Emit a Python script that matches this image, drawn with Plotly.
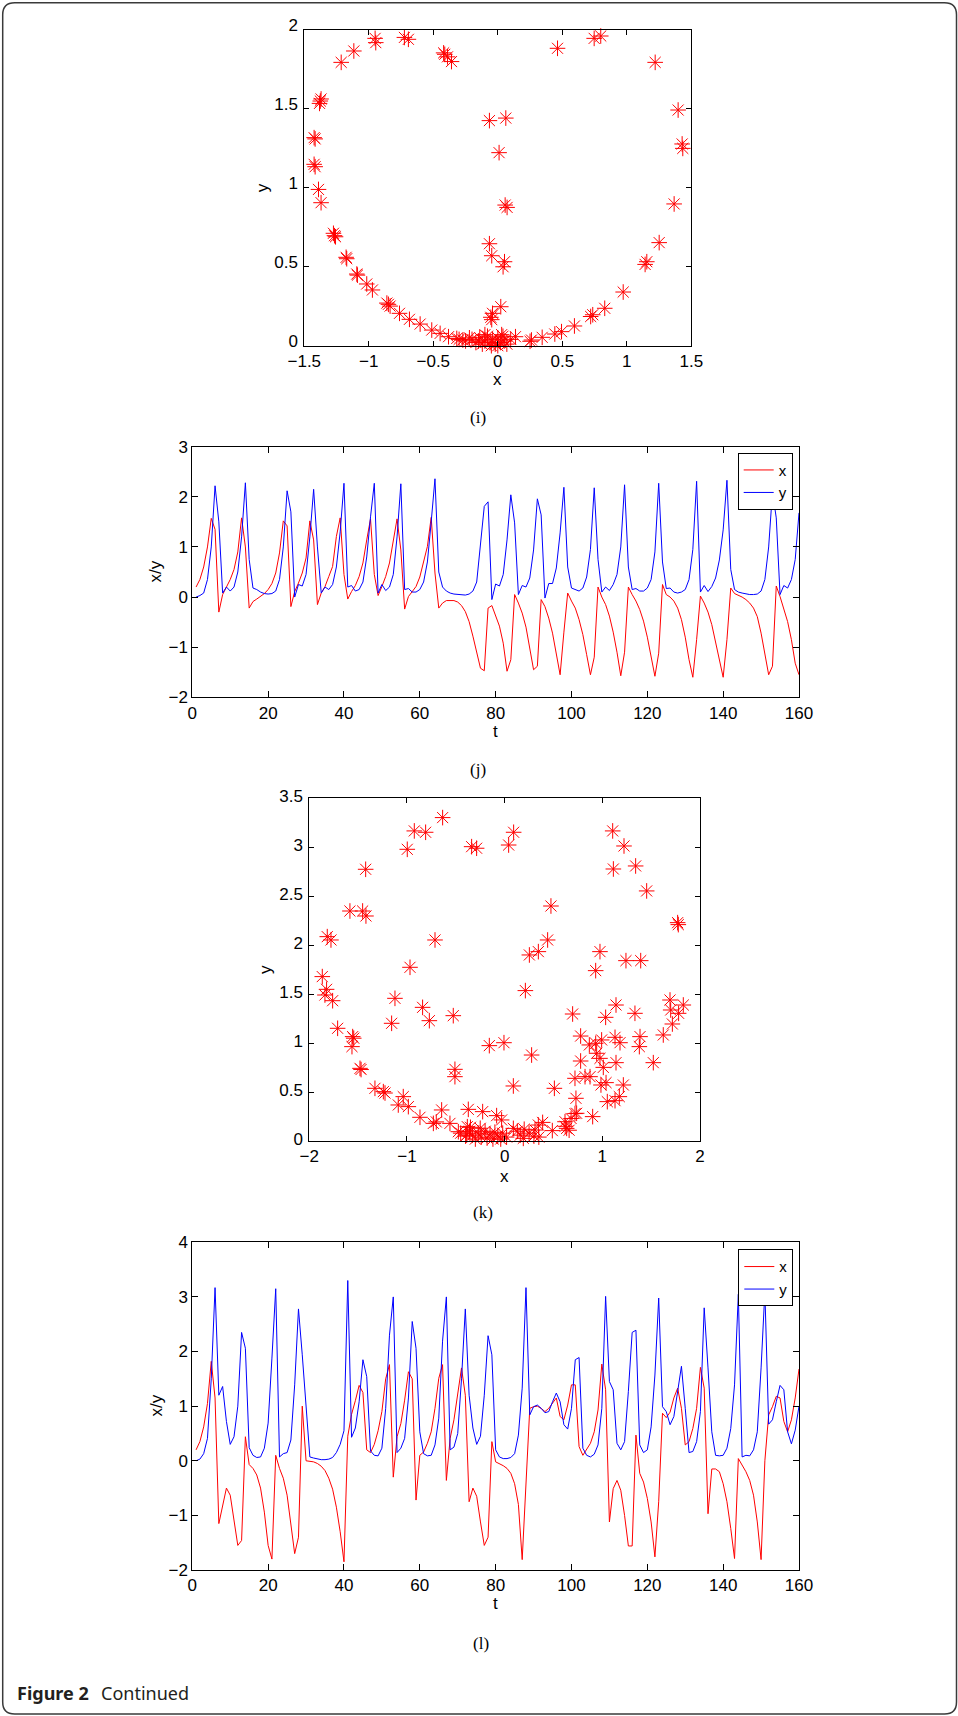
import plotly.graph_objects as go

W, H = 958, 1716

# ---------------- data ----------------
t = list(range(1, 161))

# panel (i): phase portrait
i_x = [-1.214, -1.116, -0.946, -0.951, -0.724, -0.693, -0.411, -0.39, -0.359, -0.42,
       0.463, 0.747, 0.798, 1.22, 1.398, 1.429, 1.434, 1.367, 1.251, 1.155, 1.142,
       0.972, 0.829, 0.736, 0.72, 0.594, 0.494, 0.442, 0.344, 0.261, 0.25, 0.137,
       -0.512, -0.447, -0.382, -0.318, -0.271, -0.602, -0.685, -0.762, -0.848, -0.835,
       -0.86, -0.972, -1.016, -1.093, -1.088, -1.171, -1.176, -1.266, -1.274, -1.258,
       -1.37, -1.39, -1.416, -1.424, -1.424, -1.416, -1.382, -1.37, -1.376,
       -0.065, 0.062, 0.01, 0.057, 0.072, -0.065, -0.047, 0.052, 0.041, 0.023,
       -0.041, -0.054, -0.047,
       -0.2, -0.17, -0.14, -0.12, -0.1, -0.08, -0.06, -0.04, -0.02, 0.0, 0.02, 0.03,
       0.05, 0.07, 0.1, -0.05, 0.0, -0.1, 0.04, -0.15, -0.3, -0.25, -0.22]
i_y = [1.795, 1.867, 1.92, 1.947, 1.953, 1.941, 1.846, 1.83, 1.80, 1.855,
       1.884, 1.947, 1.962, 1.795, 1.493, 1.278, 1.25, 0.898, 0.653, 0.532, 0.515,
       0.34, 0.237, 0.196, 0.185, 0.125, 0.089, 0.074, 0.053, 0.036, 0.028, 0.057,
       0.099, 0.078, 0.057, 0.046, 0.036, 0.137, 0.167, 0.205, 0.262, 0.251,
       0.27, 0.353, 0.391, 0.454, 0.447, 0.551, 0.56, 0.697, 0.712, 0.69,
       0.906, 0.99, 1.134, 1.149, 1.318, 1.31, 1.535, 1.563, 1.55,
       1.426, 1.442, 1.223, 0.891, 0.876, 0.646, 0.57, 0.532, 0.50, 0.247,
       0.205, 0.18, 0.165,
       0.04, 0.02, 0.05, 0.01, 0.03, 0.06, 0.02, 0.04, 0.01, 0.05, 0.02, 0.07,
       0.03, 0.01, 0.04, 0.0, 0.0, 0.07, 0.06, 0.03, 0.04, 0.03, 0.05]

# panel (j): time series
j_x = [0.2, 0.35, 0.6, 1.0, 1.57, 1.35, -0.3, 0.05, 0.2, 0.35,
       0.55, 0.9, 1.58, 1.0, -0.22, -0.09, -0.04, 0.01, 0.07, 0.15,
       0.27, 0.48, 0.88, 1.52, 1.42, -0.19, 0.11, 0.28, 0.48, 0.78,
       1.52, 1.14, -0.15, 0.08, 0.21, 0.41, 0.61, 1.21, 1.58, 0.45,
       -0.04, 0.11, 0.23, 0.41, 0.68, 1.14, 1.56, 0.45, 0.03, 0.21,
       0.41, 0.68, 1.08, 1.56, 0.94, -0.24, 0.01, 0.11, 0.21, 0.4,
       0.68, 1.01, 1.59, 0.48, -0.22, -0.12, -0.07, -0.07, -0.07, -0.1,
       -0.17, -0.29, -0.49, -0.78, -1.12, -1.42, -1.47, -0.22, -0.17, -0.39,
       -0.58, -0.92, -1.48, -1.25, 0.05, -0.12, -0.32, -0.6, -1.02, -1.45,
       -1.38, -0.05, -0.19, -0.42, -0.72, -1.18, -1.55, -0.7, 0.08, -0.08,
       -0.22, -0.45, -0.75, -1.15, -1.55, -1.2, 0.2, 0.0, -0.15, -0.38,
       -0.7, -1.1, -1.57, -1.1, 0.2, 0.05, -0.08, -0.25, -0.48, -0.8,
       -1.2, -1.58, -1.12, 0.25, 0.05, 0.0, -0.08, -0.22, -0.45, -0.8,
       -1.25, -1.6, -0.85, 0.02, -0.12, -0.3, -0.55, -0.9, -1.3, -1.6,
       -0.85, 0.18, 0.07, 0.04, 0.0, -0.05, -0.12, -0.22, -0.39, -0.72,
       -1.18, -1.55, -1.38, 0.22, 0.01, -0.22, -0.49, -0.85, -1.32, -1.55]
j_y = [0.0, 0.03, 0.08, 0.35, 1.0, 2.22, 1.5, 0.08, 0.2, 0.12,
       0.2, 0.5, 1.2, 2.28, 0.75, 0.18, 0.15, 0.1, 0.07, 0.06,
       0.07, 0.12, 0.35, 1.0, 2.12, 1.7, 0.0, 0.25, 0.22, 0.45,
       1.2, 2.15, 1.0, 0.08, 0.2, 0.15, 0.25, 0.6, 1.3, 2.27,
       0.2, 0.23, 0.12, 0.15, 0.3, 0.8, 1.6, 2.27, 0.08, 0.25,
       0.13, 0.2, 0.45, 1.2, 2.26, 0.15, 0.17, 0.1, 0.1, 0.15,
       0.3, 0.7, 1.5, 2.36, 0.5, 0.2, 0.12, 0.08, 0.06, 0.05,
       0.04, 0.04, 0.06, 0.12, 0.3, 1.0, 1.81, 1.9, -0.05, 0.26,
       0.22, 0.45, 1.14, 2.04, 1.48, 0.05, 0.23, 0.2, 0.38, 0.94,
       1.96, 1.64, -0.02, 0.27, 0.27, 0.58, 1.28, 2.19, 0.6, 0.18,
       0.15, 0.12, 0.18, 0.4, 0.95, 2.18, 0.75, 0.1, 0.2, 0.13,
       0.25, 0.45, 1.0, 2.24, 0.6, 0.15, 0.17, 0.12, 0.12, 0.18,
       0.35, 0.9, 2.27, 0.7, 0.17, 0.18, 0.1, 0.08, 0.1, 0.15,
       0.35, 0.95, 2.31, 0.1, 0.23, 0.11, 0.21, 0.38, 0.74, 1.34,
       2.33, 0.55, 0.15, 0.1, 0.08, 0.06, 0.05, 0.05, 0.06, 0.12,
       0.35, 1.0, 2.1, 1.58, 0.05, 0.23, 0.18, 0.35, 0.75, 1.68]

# panel (k): phase portrait
k_x = [-0.635, -0.925, -0.809, -0.997, -0.338, -0.287, 0.041, 0.092, 1.106, 1.222,
       1.113, 1.341, 1.454, 1.771, 1.778, -1.423, -1.584, -1.454, -1.42, -1.816,
       -1.778, -1.867, -1.823, -1.84, -1.761, -1.71, -1.556, -1.563, -1.545, -1.481,
       -1.47, -1.328, -1.242, -1.225, -1.089, -1.038, -0.986, -0.867, -0.73, -0.7,
       -0.645, -0.56, -0.474, -0.372, -0.382, -0.389, -0.225, -0.082, -0.031, 0.089,
       0.191, 0.311, 0.345, 0.389, 0.488, 0.618, 0.635, 0.73, 0.737, 0.72,
       0.778, 0.823, 0.874, 0.778, 0.696, 0.901, 0.867, 0.932, 0.942, 0.976,
       0.993, 1.01, 0.986, 1.038, 1.051, 1.13, 1.174, 1.215, 1.181, 1.13,
       1.14, 1.034, 1.14, 0.932, 0.976, 1.242, 1.393, 1.334, 1.386, 1.379,
       1.522, 1.624, 1.717, 1.693, 1.70, 1.781, 1.829, 0.474, 0.44, 0.345,
       0.253, 0.212, 0.276, 0.089, 0.509, -0.007, -0.157, -0.509, -0.509, -0.526,
       -0.713, -0.969, -0.84, -0.771, -1.123, -1.157,
       -0.45, -0.4, -0.36, -0.33, -0.3, -0.27, -0.24, -0.2, -0.18, -0.15,
       -0.12, -0.1, -0.07, -0.04, -0.02, 0.02, -0.25, -0.35, 0.13, 0.16,
       0.2, 0.25, 0.3, 0.35, 0.62, 0.66, 0.68, 0.72]
k_y = [3.303, 3.167, 3.153, 2.979, 3.006, 2.99, 3.023, 3.153, 3.167, 3.013,
       2.778, 2.809, 2.554, 2.23, 2.21, 2.775, 2.349, 2.349, 2.298, 2.087,
       2.053, 1.679, 1.549, 1.491, 1.433, 1.151, 1.066, 0.964, 1.05, 0.742,
       0.73, 0.538, 0.504, 0.49, 0.368, 0.453, 0.351, 0.242, 0.18, 0.195,
       0.317, 0.18, 0.095, 0.323, 0.146, 0.06, 0.30, 0.259, 0.215, 0.129,
       0.027, 0.112, 0.163, 0.19, 0.106, 0.197, 0.129, 0.436, 0.283, 0.64,
       0.817, 0.657, 0.657, 1.072, 1.297, 0.249, 0.981, 0.998, 0.896, 0.844,
       1.032, 0.752, 0.572, 0.596, 0.402, 0.412, 0.453, 0.572, 1.004, 1.059,
       0.80, 1.263, 1.389, 1.74, 1.934, 1.842, 1.842, 1.304, 1.066, 0.964,
       0.80, 1.083, 1.195, 1.44, 1.338, 1.304, 1.389, 2.40, 2.053, 1.934,
       1.90, 1.536, 0.878, 0.562, 0.538, 1.004, 0.974, 0.732, 0.657, 1.28,
       2.053, 1.774, 1.365, 1.229, 1.457, 1.202,
       0.08, 0.05, 0.1, 0.06, 0.02, 0.08, 0.04, 0.1, 0.03, 0.07,
       0.02, 0.09, 0.05, 0.02, 0.08, 0.04, 0.13, 0.14, 0.1, 0.06,
       0.12, 0.08, 0.05, 0.04, 0.15, 0.11, 0.23, 0.28]

# panel (l): time series
l_x = [0.2, 0.35, 0.62, 1.05, 1.82, 1.15, -1.15, -0.82, -0.5, -0.63,
       -1.06, -1.55, -1.46, 0.44, -0.07, -0.14, -0.26, -0.5, -0.94, -1.55,
       -1.8, 0.1, -0.14, -0.32, -0.63, -1.12, -1.7, -1.4, 1.0, 0.0,
       -0.01, -0.02, -0.05, -0.1, -0.18, -0.32, -0.52, -0.85, -1.3, -1.85,
       0.45, 0.85, 1.1, 1.38, 1.25, 0.2, 0.15, 0.3, 0.55, 0.9,
       1.5, 1.76, -0.3, 0.44, 0.68, 1.11, 1.63, 1.5, -0.72, 0.1,
       0.16, 0.32, 0.53, 0.96, 1.51, 1.76, -0.36, 0.41, 0.75, 1.2,
       1.7, 1.2, -0.75, -0.5, -0.65, -1.12, -1.55, -1.4, 0.35, -0.02,
       -0.05, -0.09, -0.14, -0.23, -0.42, -0.8, -1.81, -0.5, 0.96, 0.99,
       1.0, 0.96, 0.9, 0.96, 1.05, 1.15, 0.81, 0.75, 1.02, 1.39,
       1.39, 0.26, 0.1, 0.2, 0.32, 0.53, 0.93, 1.77, 1.3, -1.12,
       -0.51, -0.36, -0.54, -1.0, -1.56, -1.56, 0.47, -0.23, -0.39, -0.69,
       -1.12, -1.76, -0.75, 0.87, 0.79, 0.89, 1.15, 1.33, 0.96, 0.29,
       0.35, 0.59, 0.96, 1.71, 1.33, -0.97, -0.15, -0.15, -0.2, -0.42,
       -0.75, -1.24, -1.79, 0.04, -0.08, -0.2, -0.36, -0.63, -1.12, -1.81,
       0.0, 0.84, 0.99, 1.18, 1.15, 0.72, 0.53, 0.75, 1.15, 1.68]
l_y = [0.0, 0.03, 0.13, 0.41, 1.5, 3.17, 1.2, 1.36, 0.72, 0.3,
       0.44, 1.0, 2.35, 2.06, 0.24, 0.1, 0.06, 0.07, 0.23, 0.69,
       1.88, 3.15, 0.07, 0.13, 0.15, 0.38, 1.39, 2.78, 1.94, 1.0,
       0.07, 0.05, 0.03, 0.02, 0.02, 0.03, 0.06, 0.15, 0.3, 0.55,
       3.3, 0.43, 0.6, 1.08, 1.85, 1.54, 0.18, 0.1, 0.09, 0.23,
       0.96, 2.3, 3.0, 0.15, 0.23, 0.41, 1.15, 2.55, 2.06, 0.53,
       0.13, 0.09, 0.1, 0.29, 0.78, 2.19, 3.0, 0.2, 0.25, 0.5,
       1.5, 2.78, 1.2, 0.6, 0.3, 0.45, 1.2, 2.29, 1.94, 0.2,
       0.07, 0.04, 0.04, 0.06, 0.13, 0.47, 1.33, 3.17, 0.84, 0.99,
       1.02, 0.96, 0.88, 0.9, 1.08, 1.24, 1.08, 0.66, 0.58, 0.96,
       1.85, 1.89, 0.23, 0.1, 0.07, 0.12, 0.29, 0.96, 3.01, 1.45,
       1.3, 0.32, 0.2, 0.35, 1.27, 2.35, 2.39, 0.29, 0.15, 0.2,
       0.62, 1.57, 2.98, 0.99, 0.9, 0.66, 0.81, 1.27, 1.73, 0.96,
       0.15, 0.17, 0.35, 0.9, 2.8, 1.7, 0.53, 0.1, 0.09, 0.1,
       0.23, 0.59, 1.39, 3.05, 0.07, 0.1, 0.09, 0.2, 0.53, 1.7,
       3.1, 0.67, 0.75, 1.08, 1.38, 1.3, 0.53, 0.31, 0.56, 1.0]

# ---------------- layout helpers ----------------
def PX(v):
    return v / W

def PY(v):
    return 1 - v / H

RED = "#ff0000"
BLUE = "#0000ff"
SANS = "Liberation Sans, Arial, sans-serif"
TICKFONT = dict(family=SANS, size=17, color="black")

fig = go.Figure()

star = dict(symbol="asterisk-open", size=13, color=RED, line=dict(color=RED, width=1))
fig.add_trace(go.Scatter(x=i_x, y=i_y, mode="markers", marker=star, xaxis="x", yaxis="y",
                         showlegend=False, cliponaxis=False))
fig.add_trace(go.Scatter(x=t, y=j_x, mode="lines", name="x", line=dict(color=RED, width=1),
                         xaxis="x2", yaxis="y2", legend="legend"))
fig.add_trace(go.Scatter(x=t, y=j_y, mode="lines", name="y", line=dict(color=BLUE, width=1),
                         xaxis="x2", yaxis="y2", legend="legend"))
fig.add_trace(go.Scatter(x=k_x, y=k_y, mode="markers", marker=star, xaxis="x3", yaxis="y3",
                         showlegend=False, cliponaxis=False))
fig.add_trace(go.Scatter(x=t, y=l_x, mode="lines", name="x", line=dict(color=RED, width=1),
                         xaxis="x4", yaxis="y4", legend="legend2"))
fig.add_trace(go.Scatter(x=t, y=l_y, mode="lines", name="y", line=dict(color=BLUE, width=1),
                         xaxis="x4", yaxis="y4", legend="legend2"))

def ax(domain, rng, dtick, anchor, ticklen=6, standoff=None, shift=None):
    d = dict(domain=domain, range=rng, dtick=dtick, tick0=rng[0], anchor=anchor,
             showline=True, linecolor="black", linewidth=1, mirror="ticks",
             ticks="inside", ticklen=ticklen, tickwidth=1, tickcolor="black",
             showgrid=False, zeroline=False, tickfont=TICKFONT, fixedrange=True,
             automargin=False)
    if standoff is not None:
        d["ticklabelstandoff"] = standoff
    if shift is not None:
        d["ticklabelshift"] = shift
    return d

# pixel boxes of the four axes (left, right, top, bottom)
I_BOX = (304.3, 691.3, 30.0, 345.7)
J_BOX = (192.3, 799.0, 446.7, 697.3)
K_BOX = (309.3, 700.0, 798.3, 1141.0)
L_BOX = (192.3, 799.0, 1242.3, 1570.0)

def dom(box):
    l, r, tp, b = box
    return [PX(l), PX(r)], [PY(b), PY(tp)]

ix, iy = dom(I_BOX)
jx, jy = dom(J_BOX)
kx, ky = dom(K_BOX)
lx, ly = dom(L_BOX)

legend_style = dict(xanchor="right", yanchor="top", bordercolor="black", borderwidth=1,
                    bgcolor="white", font=dict(family=SANS, size=15, color="black"),
                    tracegroupgap=0, itemwidth=30)

ann = []
def text(x, y, s, size=17, family=SANS, angle=0, xanchor="center", color="black"):
    ann.append(dict(x=PX(x), y=PY(y), xref="paper", yref="paper", text=s, showarrow=False,
                    xanchor=xanchor, yanchor="middle", textangle=angle,
                    font=dict(family=family, size=size, color=color)))

# axis titles
text(497.7, 380, "x")
text(263.3, 188, "y", angle=-90)
text(495.6, 731, "t")
text(155.5, 572, "x/y", angle=-90)
text(504.3, 1176.7, "x")
text(265, 970, "y", angle=-90)
text(495.6, 1603, "t")
text(155.5, 1406, "x/y", angle=-90)
# panel labels
SERIF = "Liberation Serif, Times New Roman, serif"
text(478.3, 417, "(i)", size=17, family=SERIF)
text(478.3, 769.4, "(j)", size=17, family=SERIF)
text(482.6, 1212.6, "(k)", size=17, family=SERIF)
text(481, 1643.3, "(l)", size=17, family=SERIF)
# caption
text(14.5, 1692.5, "<b>Figure 2</b>", size=18, family="Noto Sans, sans-serif",
     xanchor="left", color="#231f20")
text(99, 1692.5, "Continued", size=18, family="Noto Sans, sans-serif",
     xanchor="left", color="#231f20")

# rounded page border
x0, x1, y0, y1, r = 2.7, 956.5, 2.7, 1714.0, 12.0
path = (f"M {PX(x0+r)},{PY(y0)} L {PX(x1-r)},{PY(y0)} Q {PX(x1)},{PY(y0)} {PX(x1)},{PY(y0+r)} "
        f"L {PX(x1)},{PY(y1-r)} Q {PX(x1)},{PY(y1)} {PX(x1-r)},{PY(y1)} "
        f"L {PX(x0+r)},{PY(y1)} Q {PX(x0)},{PY(y1)} {PX(x0)},{PY(y1-r)} "
        f"L {PX(x0)},{PY(y0+r)} Q {PX(x0)},{PY(y0)} {PX(x0+r)},{PY(y0)} Z")

fig.update_layout(
    template="none",
    width=W, height=H, autosize=False,
    margin=dict(l=0, r=0, t=0, b=0, pad=0, autoexpand=False),
    paper_bgcolor="white", plot_bgcolor="white",
    xaxis=ax(ix, [-1.5, 1.5], 0.5, "y", 5),
    yaxis=ax(iy, [0, 2], 0.5, "x", 5, standoff=2, shift=-5),
    xaxis2=ax(jx, [0, 160], 20, "y2"),
    yaxis2=ax(jy, [-2, 3], 1, "x2"),
    xaxis3=ax(kx, [-2, 2], 1, "y3", 5),
    yaxis3=ax(ky, [0, 3.5], 0.5, "x3", 5, standoff=2, shift=-2),
    xaxis4=ax(lx, [0, 160], 20, "y4"),
    yaxis4=ax(ly, [-2, 4], 1, "x4"),
    legend=dict(x=PX(792.7), y=PY(452.7), **legend_style),
    legend2=dict(x=PX(793.3), y=PY(1249.3), **legend_style),
    annotations=ann,
    shapes=[dict(type="path", path=path, xref="paper", yref="paper",
                 line=dict(color="#3a3a3a", width=1.5), fillcolor="rgba(0,0,0,0)")],
)

fig.write_html(
    "out.html",
    config=dict(responsive=False, displayModeBar=False),
    post_script="document.body.style.margin='0';document.body.style.overflow='hidden';",
)
